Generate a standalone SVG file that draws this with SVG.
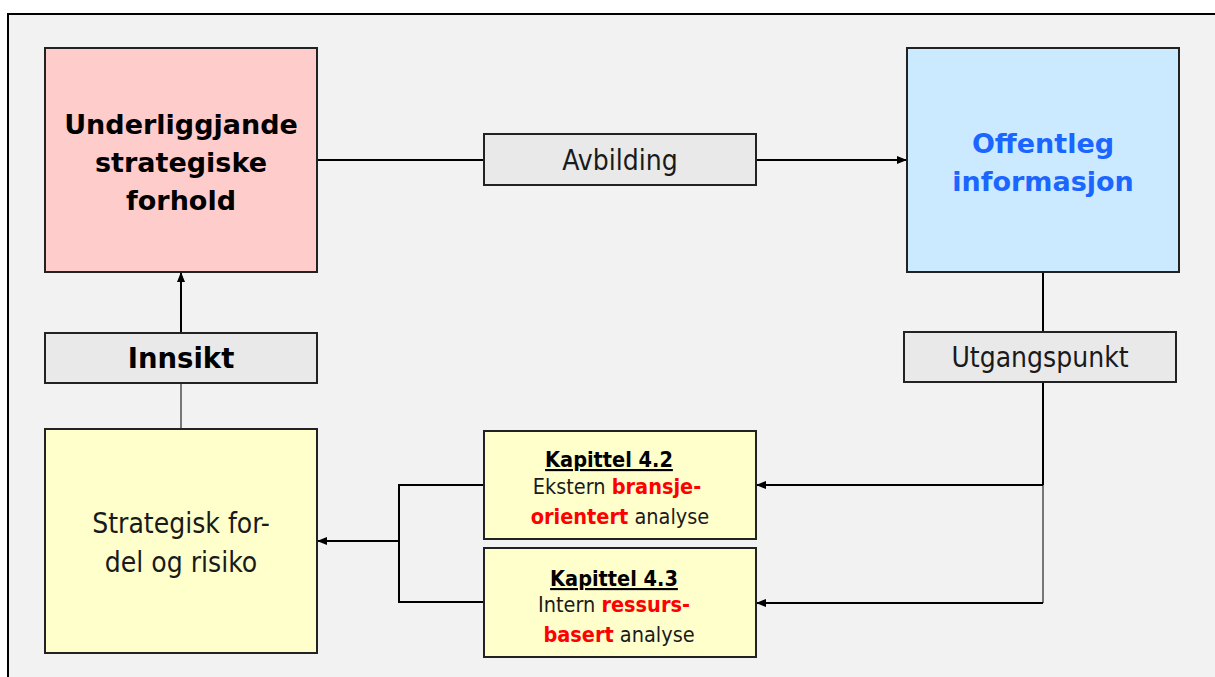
<svg xmlns="http://www.w3.org/2000/svg" width="1215" height="677" viewBox="0 0 1215 677">
<style>
.frame{fill:#f2f2f2;stroke:#000;stroke-width:2}
.box{stroke:#222;stroke-width:2}
.lbl{fill:#e9e9e9;stroke:#222;stroke-width:2}
.c{fill:none;stroke:#000;stroke-width:2}
.cg{fill:none;stroke:#777;stroke-width:2}
.bold{font-family:"DejaVu Sans",Verdana,sans-serif;font-weight:bold;font-size:27px;text-anchor:middle;fill:#000}
.reg{font-family:"DejaVu Sans Condensed","DejaVu Sans",sans-serif;font-size:28px;text-anchor:middle;fill:#1a1a1a}
.small{font-family:"DejaVu Sans Condensed","DejaVu Sans",sans-serif;font-size:21.5px;text-anchor:middle;fill:#1a1a1a}
.kb{font-weight:bold;text-decoration:underline;fill:#000}
.red{font-weight:bold;fill:#ff0000}
</style>
<defs>
<marker id="ah" markerWidth="10" markerHeight="10" refX="10" refY="5" orient="auto" markerUnits="userSpaceOnUse">
<path d="M0,1 L10,5 L0,9 z" fill="#000"/>
</marker>
</defs>
<rect class="frame" x="8" y="14" width="1220" height="680"/>
<g id="connectors">
<path class="c" d="M317,160 H907" marker-end="url(#ah)"/>
<path class="c" d="M181,333 V272" marker-end="url(#ah)"/>
<path class="cg" d="M181,429 V383"/>
<path class="c" d="M1043,272 V485"/>
<path class="cg" d="M1043,485 V603"/>
<path class="c" d="M1043,485 H756" marker-end="url(#ah)"/>
<path class="c" d="M1043,603 H756" marker-end="url(#ah)"/>
<path class="c" d="M484,485 H399 V602 H484"/>
<path class="c" d="M399,541 H317" marker-end="url(#ah)"/>
</g>
<g id="underliggjande">
<rect class="box" x="45" y="48" width="272" height="224" fill="#ffcccc"/>
<text class="bold" x="181" y="134">Underliggjande</text>
<text class="bold" x="181" y="172">strategiske</text>
<text class="bold" x="181" y="210">forhold</text>
</g>
<g id="offentleg">
<rect class="box" x="907" y="48" width="272" height="224" fill="#cceaff"/>
<text class="bold" x="1043" y="153" fill="#1a66ff" style="fill:#1a66ff">Offentleg</text>
<text class="bold" x="1043" y="191" style="fill:#1a66ff">informasjon</text>
</g>
<g id="avbilding">
<rect class="lbl" x="484" y="134" width="272" height="51"/>
<text class="reg" x="620" y="170">Avbilding</text>
</g>
<g id="innsikt">
<rect class="lbl" x="45" y="333" width="272" height="50"/>
<text class="bold" x="181" y="368" style="font-size:27.5px">Innsikt</text>
</g>
<g id="utgangspunkt">
<rect class="lbl" x="904" y="332" width="272" height="50"/>
<text class="reg" x="1040" y="367">Utgangspunkt</text>
</g>
<g id="strategisk">
<rect class="box" x="45" y="429" width="272" height="224" fill="#ffffcc"/>
<text class="reg" x="181" y="533">Strategisk for-</text>
<text class="reg" x="181" y="572">del og risiko</text>
</g>
<g id="kapittel42">
<rect class="box" x="484" y="431" width="272" height="108" fill="#ffffcc"/>
<text class="small" x="609" y="467"><tspan class="kb">Kapittel 4.2</tspan></text>
<text class="small" x="617" y="494">Ekstern <tspan class="red">bransje-</tspan></text>
<text class="small" x="620" y="524"><tspan class="red">orientert</tspan> analyse</text>
</g>
<g id="kapittel43">
<rect class="box" x="484" y="548" width="272" height="109" fill="#ffffcc"/>
<text class="small" x="614" y="586"><tspan class="kb">Kapittel 4.3</tspan></text>
<text class="small" x="614" y="612">Intern <tspan class="red">ressurs-</tspan></text>
<text class="small" x="619" y="642"><tspan class="red">basert</tspan> analyse</text>
</g>
</svg>
